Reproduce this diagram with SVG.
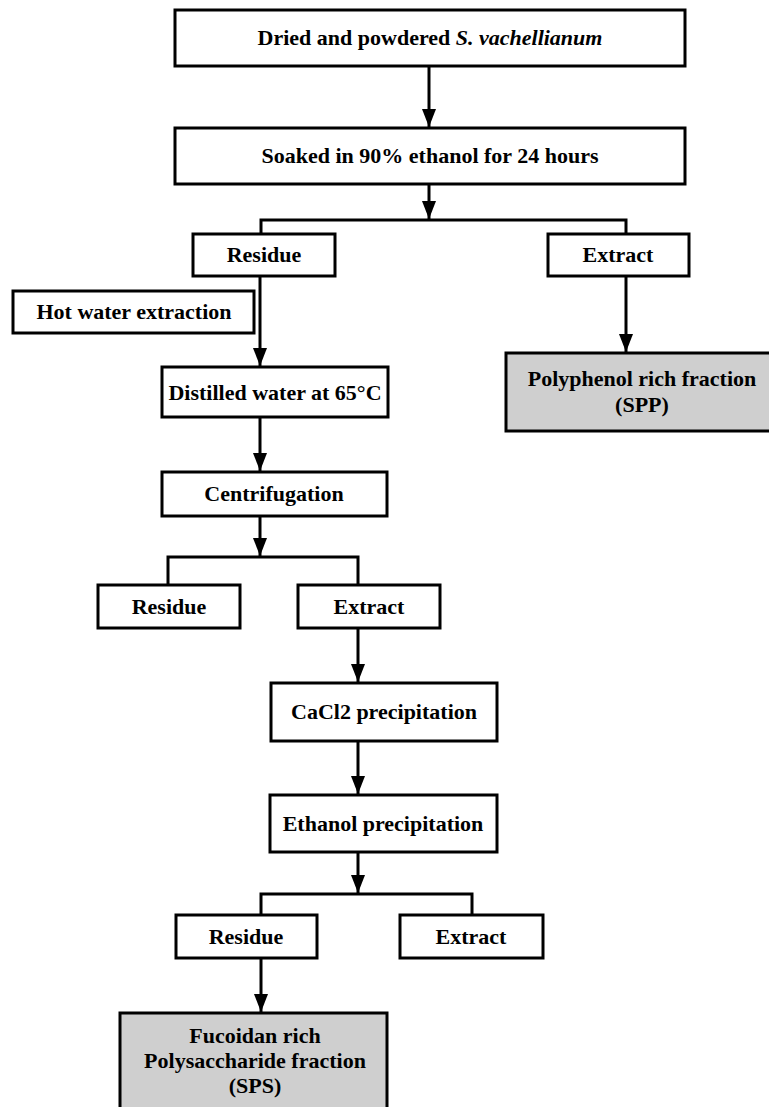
<svg xmlns="http://www.w3.org/2000/svg" width="769" height="1107" viewBox="0 0 769 1107">
<style>
.box{fill:#fff;stroke:#000;stroke-width:3}
.res{fill:#cfcfcf;stroke:#000;stroke-width:3}
.t{font-family:"Liberation Serif","Times New Roman",serif;font-weight:bold;font-size:22px;text-anchor:middle;fill:#000}
.ln{fill:none;stroke:#000;stroke-width:3}
</style>
<defs>
<marker id="ah" viewBox="0 0 18 14" refX="18" refY="7" markerWidth="18" markerHeight="14" markerUnits="userSpaceOnUse" orient="auto">
<path d="M0,0 L18,7 L0,14 z" fill="#000"/>
</marker>
</defs>
<rect width="769" height="1107" fill="#fff"/>
<g id="connectors">
<line class="ln" x1="429" y1="66" x2="429" y2="127" marker-end="url(#ah)"/>
<line class="ln" x1="429" y1="184" x2="429" y2="219" marker-end="url(#ah)"/>
<path class="ln" d="M261,234 V220 H626 V234"/>
<line class="ln" x1="260" y1="276" x2="260" y2="366" marker-end="url(#ah)"/>
<line class="ln" x1="626" y1="276" x2="626" y2="352" marker-end="url(#ah)"/>
<line class="ln" x1="260" y1="417" x2="260" y2="471" marker-end="url(#ah)"/>
<line class="ln" x1="260" y1="516" x2="260" y2="556" marker-end="url(#ah)"/>
<path class="ln" d="M168,585 V557 H358 V585"/>
<line class="ln" x1="358" y1="628" x2="358" y2="682" marker-end="url(#ah)"/>
<line class="ln" x1="358" y1="741" x2="358" y2="794" marker-end="url(#ah)"/>
<line class="ln" x1="358" y1="852" x2="358" y2="893" marker-end="url(#ah)"/>
<path class="ln" d="M261,915 V894 H472 V915"/>
<line class="ln" x1="261" y1="958" x2="261" y2="1012" marker-end="url(#ah)"/>
</g>
<g id="n1"><rect class="box" x="175" y="10" width="510" height="56"/>
<text class="t" x="430" y="45">Dried and powdered <tspan font-style="italic">S. vachellianum</tspan></text></g>
<g id="n2"><rect class="box" x="175" y="128" width="510" height="56"/>
<text class="t" x="430" y="163">Soaked in 90% ethanol for 24 hours</text></g>
<g id="n3"><rect class="box" x="193" y="234" width="142" height="42"/>
<text class="t" x="264" y="262">Residue</text></g>
<g id="n4"><rect class="box" x="548" y="234" width="141" height="42"/>
<text class="t" x="618" y="262">Extract</text></g>
<g id="n5"><rect class="box" x="13" y="291" width="241" height="42"/>
<text class="t" x="134" y="319">Hot water extraction</text></g>
<g id="n6"><rect class="res" x="506" y="353" width="272" height="78"/>
<text class="t" x="642" y="386">Polyphenol rich fraction</text>
<text class="t" x="642" y="412">(SPP)</text></g>
<g id="n7"><rect class="box" x="162" y="367" width="226" height="50"/>
<text class="t" x="275" y="400">Distilled water at 65°C</text></g>
<g id="n8"><rect class="box" x="162" y="472" width="225" height="44"/>
<text class="t" x="274" y="501">Centrifugation</text></g>
<g id="n9"><rect class="box" x="98" y="585" width="142" height="43"/>
<text class="t" x="169" y="614">Residue</text></g>
<g id="n10"><rect class="box" x="298" y="585" width="142" height="43"/>
<text class="t" x="369" y="614">Extract</text></g>
<g id="n11"><rect class="box" x="271" y="683" width="226" height="58"/>
<text class="t" x="384" y="719">CaCl2 precipitation</text></g>
<g id="n12"><rect class="box" x="270" y="795" width="227" height="57"/>
<text class="t" x="383" y="831">Ethanol precipitation</text></g>
<g id="n13"><rect class="box" x="176" y="915" width="141" height="43"/>
<text class="t" x="246" y="944">Residue</text></g>
<g id="n14"><rect class="box" x="400" y="915" width="143" height="43"/>
<text class="t" x="471" y="944">Extract</text></g>
<g id="n15"><rect class="res" x="120" y="1013" width="267" height="110"/>
<text class="t" x="255" y="1043">Fucoidan rich</text>
<text class="t" x="255" y="1068">Polysaccharide fraction</text>
<text class="t" x="255" y="1093">(SPS)</text></g>
</svg>
